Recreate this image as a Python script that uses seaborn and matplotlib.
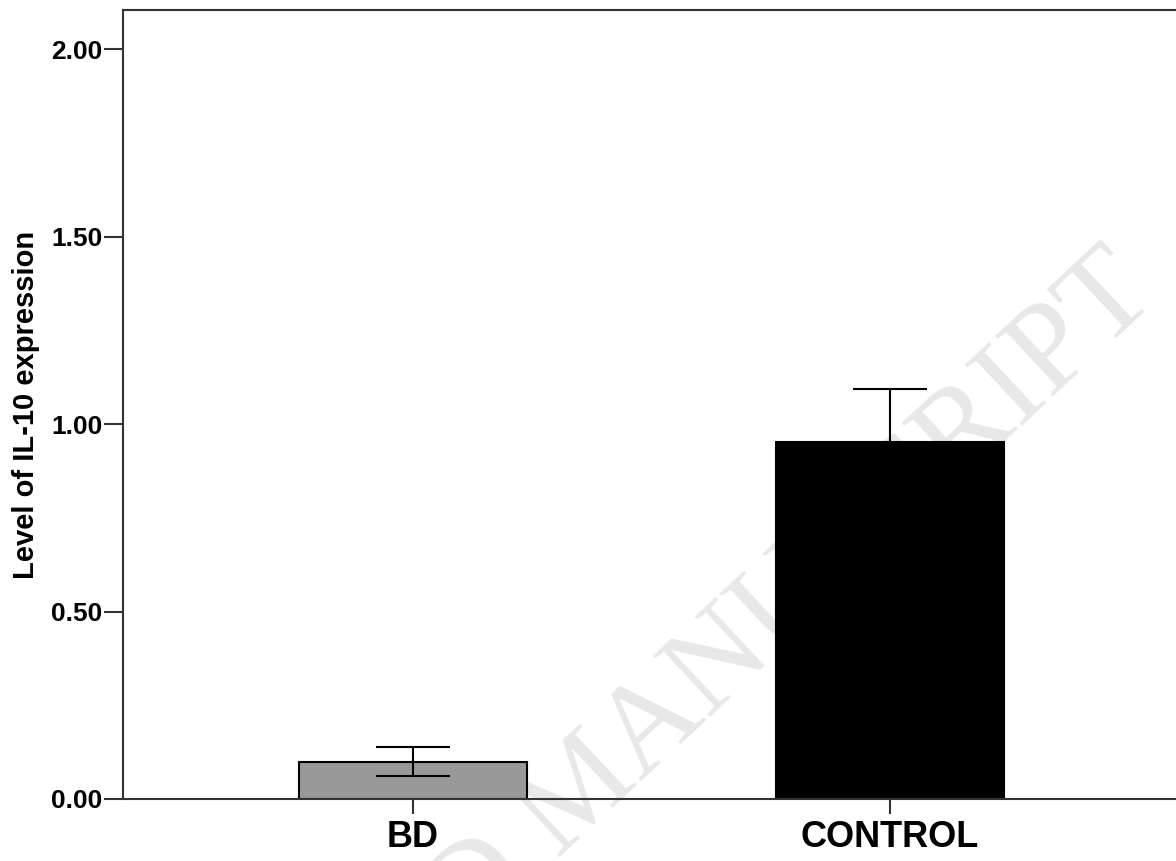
import matplotlib
matplotlib.use('Agg')
import matplotlib.pyplot as plt
import seaborn as sns
import pandas as pd

# values
groups = ['BD', 'CONTROL']
means = [0.10, 0.952]
errors = [0.039, 0.141]
bar_colors = ['#999999', '#000000']

df = pd.DataFrame({'group': groups, 'level': means})

sns.set_style('white')
plt.rcParams['font.family'] = ['Liberation Sans', 'DejaVu Sans']

fig = plt.figure(figsize=(11.76, 8.61), dpi=100)
ax = fig.add_axes([123 / 1176, 62 / 861, 1057 / 1176, 789 / 861])

sns.barplot(data=df, x='group', y='level', hue='group', palette=bar_colors,
            width=0.478, errorbar=None, legend=False, ax=ax,
            edgecolor='black', linewidth=1.5, zorder=2)

# error bars (mean +/- error), drawn over the bars
ax.errorbar(range(len(groups)), means, yerr=errors, fmt='none',
            ecolor='black', elinewidth=1.5, capsize=26.5, capthick=1.5, zorder=3)

# faint journal watermark behind the bars
fig.text(0.986, 0.654, 'ACCEPTED MANUSCRIPT', family='Liberation Serif',
         fontsize=92, color='#e8e8e8', rotation=43, rotation_mode='anchor',
         ha='right', va='baseline', zorder=0)
ax.set_zorder(1)
ax.patch.set_alpha(0)

ax.set_xlim(-0.608, 1.608)
ax.set_ylim(0, 2.104)
ax.set_yticks([0, 0.5, 1.0, 1.5, 2.0])
ax.set_yticklabels(['0.00', '0.50', '1.00', '1.50', '2.00'])

ax.set_xlabel('')
ax.set_ylabel('Level of IL-10 expression', fontsize=21, fontweight='bold',
              labelpad=8, color='black')

for s in ax.spines.values():
    s.set_linewidth(1.5)
    s.set_color('#333333')

ax.tick_params(axis='y', which='major', direction='out', length=14, width=1.5,
               color='#333333', labelcolor='black', left=True, labelsize=19, pad=1)
ax.tick_params(axis='x', which='major', direction='out', length=11, width=1.5,
               color='#333333', labelcolor='black', bottom=True, labelsize=26, pad=4)
for lab in ax.get_xticklabels() + ax.get_yticklabels():
    lab.set_fontweight('bold')

fig.savefig('out.png', dpi=100)
